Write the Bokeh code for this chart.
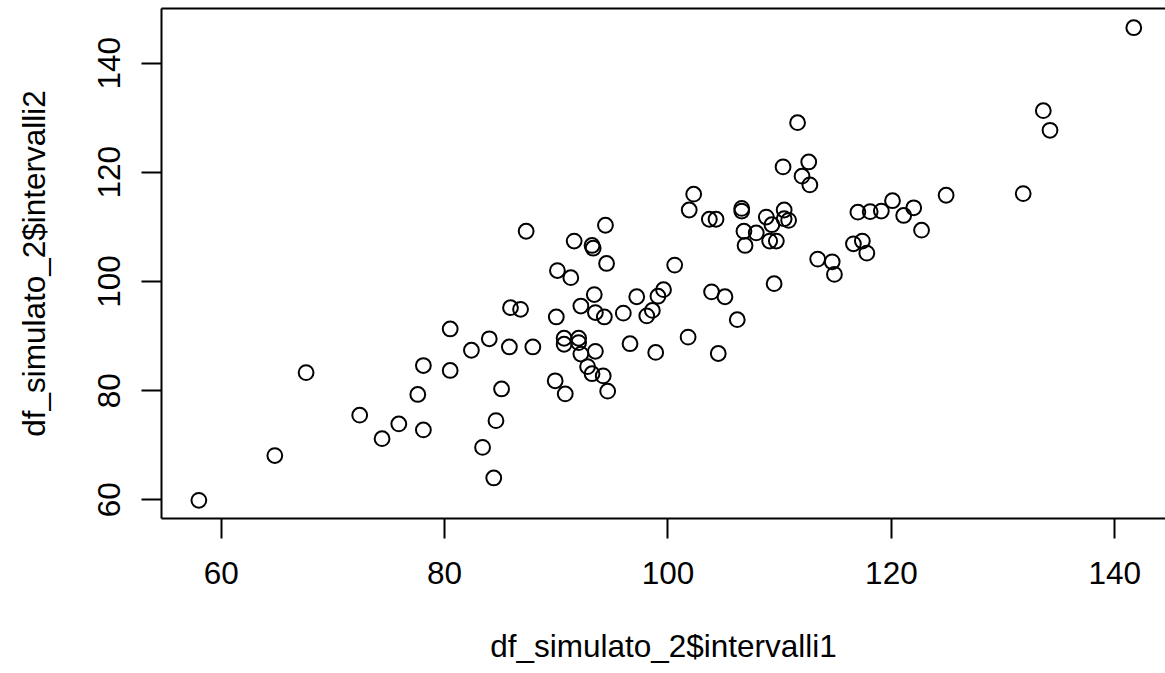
from bokeh.plotting import figure
from bokeh.models import Range1d, FixedTicker, LinearAxis
from bokeh.embed import file_html
from bokeh.resources import INLINE

# ---- data ----
intervalli1 = [58.0, 64.8, 67.6, 72.4, 74.4, 75.9, 78.1, 77.6, 78.1, 80.5,
               80.5, 82.4, 84.0, 85.8, 87.9, 85.9, 86.8, 85.1, 84.6, 83.4,
               84.4, 87.3, 94.4, 91.6, 93.2, 93.3, 94.5, 100.6, 90.1, 91.3,
               93.4, 97.2, 99.6, 99.1, 92.2, 93.5, 94.3, 96.0, 98.6, 98.1,
               90.0, 90.7, 90.7, 92.0, 92.0, 92.2, 93.5, 96.6, 98.9, 101.8,
               92.8, 93.2, 94.2, 89.9, 90.8, 94.6, 111.6, 110.3, 112.6, 112.0,
               112.7, 102.3, 101.9, 103.7, 104.3, 106.6, 106.6, 108.8, 109.3, 110.4,
               110.4, 110.8, 106.8, 107.9, 106.9, 109.1, 109.7, 117.0, 118.1, 119.1,
               120.1, 121.1, 122.0, 122.7, 124.9, 116.6, 117.4, 117.8, 113.4, 114.7,
               114.9, 109.5, 103.9, 105.1, 106.2, 141.7, 133.6, 134.2, 131.8, 104.5]
intervalli2 = [59.9, 68.1, 83.3, 75.5, 71.2, 73.9, 72.8, 79.3, 84.6, 91.3,
               83.7, 87.4, 89.5, 88.0, 88.0, 95.2, 94.9, 80.3, 74.5, 69.6,
               64.0, 109.2, 110.3, 107.4, 106.6, 106.1, 103.3, 103.0, 102.0, 100.7,
               97.6, 97.2, 98.5, 97.3, 95.5, 94.3, 93.5, 94.2, 94.7, 93.7,
               93.5, 89.6, 88.5, 89.6, 88.8, 86.7, 87.2, 88.6, 87.0, 89.8,
               84.4, 83.1, 82.7, 81.8, 79.4, 79.9, 129.1, 121.0, 121.9, 119.3,
               117.7, 116.0, 113.1, 111.4, 111.4, 113.4, 112.9, 111.8, 110.4, 113.1,
               111.5, 111.2, 109.2, 108.9, 106.6, 107.4, 107.4, 112.7, 112.8, 112.9,
               114.8, 112.1, 113.5, 109.4, 115.8, 106.9, 107.4, 105.2, 104.1, 103.6,
               101.3, 99.6, 98.1, 97.2, 93.0, 146.5, 131.3, 127.7, 116.1, 86.8]
x_ticks = [60, 80, 100, 120, 140]
y_ticks = [60, 80, 100, 120, 140]
x_label = "df_simulato_2$intervalli1"
y_label = "df_simulato_2$intervalli2"

FONT = "Liberation Sans"
FS = "31.5px"

p = figure(width=1165, height=673, output_backend="svg", toolbar_location=None,
           x_range=Range1d(54.655, 144.54), y_range=Range1d(56.57, 150.02),
           min_border_left=161, min_border_right=0, min_border_top=8,
           min_border_bottom=155, background_fill_color="white",
           border_fill_color="white", outline_line_color=None)

p.scatter(intervalli1, intervalli2, marker="circle", size=14.8,
          fill_color=None, line_color="black", line_width=2)

p.xgrid.visible = False
p.ygrid.visible = False

for ax in (p.xaxis[0], p.yaxis[0]):
    ax.axis_line_width = 2
    ax.axis_line_color = "black"
    ax.major_tick_line_width = 2
    ax.major_tick_line_color = "black"
    ax.major_tick_out = 20
    ax.major_tick_in = 0
    ax.minor_tick_out = 0
    ax.minor_tick_in = 0
    ax.major_label_text_font = FONT
    ax.major_label_text_font_size = FS
    ax.major_label_text_color = "black"
    ax.axis_label_text_font = FONT
    ax.axis_label_text_font_size = FS
    ax.axis_label_text_font_style = "normal"
    ax.axis_label_text_color = "black"

p.xaxis[0].ticker = FixedTicker(ticks=x_ticks)
p.yaxis[0].ticker = FixedTicker(ticks=y_ticks)
p.xaxis[0].axis_label = x_label
p.yaxis[0].axis_label = y_label
p.xaxis[0].major_label_standoff = 23
p.xaxis[0].axis_label_standoff = 41
p.yaxis[0].major_label_orientation = "vertical"
p.yaxis[0].major_label_standoff = 21
p.yaxis[0].axis_label_standoff = 44

# top border of the box (R draws a full box; right side is cropped off)
top = LinearAxis(ticker=FixedTicker(ticks=[]), axis_line_width=2,
                 axis_line_color="black", major_tick_out=0, major_tick_in=0,
                 minor_tick_out=0, minor_tick_in=0,
                 major_label_text_font_size="0px", major_label_standoff=0)
p.add_layout(top, "above")

open("out.html", "w").write(file_html(p, INLINE))
